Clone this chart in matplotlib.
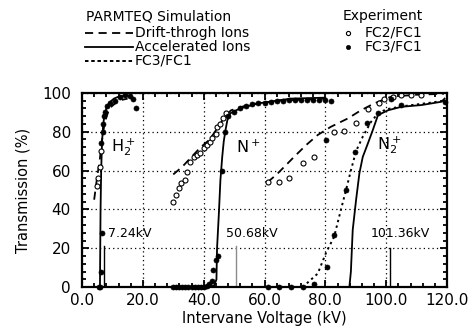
import matplotlib
matplotlib.use("Agg")
import matplotlib.pyplot as plt
from matplotlib.lines import Line2D
from matplotlib.ticker import MultipleLocator

plt.rcParams['font.family'] = ['DejaVu Sans']
plt.rcParams['mathtext.default'] = 'regular'

# ---------------- data ----------------
# H2+
h2_acc_x = [5.9, 6.0, 6.1, 6.3, 6.6, 6.9, 7.3, 8.0, 9.0, 10.5, 12.0, 14.0, 16.0]
h2_acc_y = [0, 20, 40, 60, 75, 82, 88, 92, 95, 97, 98, 98.5, 98.5]
h2_drift_x = [4.0, 5.0, 5.8, 6.5, 7.5, 9.0, 12.0, 15.0]
h2_drift_y = [45, 57, 65, 75, 85, 92, 96, 97]
h2_fc3_x = [5.5, 5.9, 6.4, 6.5, 6.3, 6.8, 7.0, 7.3, 7.6, 8.1, 9.2, 10.9, 12.5, 14.2, 15.8, 16.9, 17.7]
h2_fc3_y = [0, 0, 8, 28, 74, 80, 84, 88, 90, 93, 94.5, 96, 98, 98.8, 98.3, 97, 92]
h2_fc2_x = [5.0, 5.4, 5.8, 6.2]
h2_fc2_y = [52, 56, 62, 70]

# N+
n_acc_x = [29, 42, 43.5, 44.2, 44.4, 45.0, 45.5, 46.1, 46.6, 47.2, 47.8, 48.8, 52.0, 57.7, 68.6, 80.0]
n_acc_y = [0, 0, 1, 4, 20, 38, 55, 67, 75, 81, 86, 89.5, 92, 94.5, 97, 97.5]
n_drift_x = [30, 33, 36, 39, 42, 45, 47, 49, 55, 65, 80]
n_drift_y = [58, 62, 67, 72, 76, 83, 88, 91, 94, 96, 97]
n_fc3_x = [30, 31, 32, 33, 34, 35, 36, 37, 38, 39, 40, 41, 41.8, 42.6, 43.2, 44.2, 44.6,
           46.1, 47.0, 48, 50, 52, 54, 56, 58, 60, 62, 64, 66, 68, 70, 72, 74, 76, 78, 80, 82]
n_fc3_y = [0, 0, 0, 0, 0, 0, 0, 0, 0, 0, 0, 0.5, 1.5, 3, 9, 14, 16,
           60, 80, 88, 90, 92, 93, 94, 94.5, 95, 95.5, 96, 96, 96.5, 96.5, 96.5, 96.5, 96.5, 96.2, 96.2, 96]
n_fc2_x = [29.9, 31.0, 31.8, 32.6, 33.8, 34.6, 35.6, 36.7, 37.9, 38.9, 40.0, 41.2, 42.2,
           42.8, 43.9, 44.4, 45.5, 46.4, 47.2]
n_fc2_y = [44, 47.4, 50.8, 53.4, 55, 59.4, 64.5, 66.8, 68, 69, 71.4, 73, 74.8,
           76.5, 79, 82.5, 84.2, 86.8, 89.4]

# N2+
n2_acc_x = [0, 87.9, 88.4, 89.0, 90.1, 91.2, 92.3, 94.0, 95.6, 97.3, 100.6, 105.0, 111.6, 118.2, 119.2]
n2_acc_y = [0, 0, 8, 29.4, 44.8, 58.6, 67, 74, 80.8, 88.5, 91, 92.8, 93.7, 95.4, 97]
n2_drift_x = [61, 64, 67.5, 69.7, 73.6, 77.5, 81.8, 87.4, 91.7, 96.0, 101.6, 110, 119]
n2_drift_y = [54, 58, 63.5, 67, 73, 78.3, 82.5, 86.8, 91, 94.5, 98, 99, 99.5]
n2_sim3_x = [72.5, 77.5, 80.2, 82.9, 85.1, 86.8, 88.4, 90.1, 92.3, 95.0, 97.3, 100, 105, 110, 115, 119]
n2_sim3_y = [0, 7, 17.6, 26, 39.7, 50, 60, 70, 77.4, 85, 89.4, 91.5, 93, 94, 95, 96]
n2_fc3_x = [61, 64.8, 68.6, 72.5, 76.3, 80.5, 82.9, 86.8, 89.8, 80.2, 93.7, 97.3, 101.6, 105.0, 119.2]
n2_fc3_y = [0, 0, 0, 0, 1.6, 10.5, 27, 50, 69.7, 75.6, 84.3, 89.4, 97, 93.7, 95.4]
n2_fc2_x = [61, 64.8, 68.1, 72.5, 76.3, 82.9, 86.2, 90.1, 94.0, 97.8, 99.4, 102.2, 105, 108.3, 111.6]
n2_fc2_y = [54.2, 54.2, 56, 63.7, 66.8, 80, 80.5, 84.6, 91.5, 94.5, 97, 98, 98.8, 98.8, 98.8]

# markers for rf-voltage values
mark_x = [7.24, 50.68, 101.36]
mark_h = [21, 21, 20]
mark_labels = ["7.24kV", "50.68kV", "101.36kV"]
mark_label_x = [8.7, 47.4, 95.0]
mark_colors = ["black", "0.55", "black"]

ion_labels = ["$H_2^+$", "$N^+$", "$N_2^+$"]
ion_label_x = [9.5, 50.5, 97.0]
ion_label_y = [72, 72, 73]

xticks = [0, 20, 40, 60, 80, 100, 120]
xticklabels = ["0.0", "20.0", "40.0", "60.0", "80.0", "100.0", "120.0"]
yticks = [0, 20, 40, 60, 80, 100]

# ---------------- figure ----------------
W, H = 470, 333
fig = plt.figure(figsize=(W / 100, H / 100), dpi=100)
ax = fig.add_axes([82 / W, 1 - 287.2 / H, (447 - 82) / W, (287.2 - 92.8) / H])

dash_style = dict(color="black", lw=1.3, ls=(0, (4.5, 3)))
solid_style = dict(color="black", lw=1.3, ls="-")
dot_style = dict(color="black", lw=1.4, ls=(0, (1.2, 1.8)))
open_style = dict(ls="none", marker="o", ms=3.6, mfc="white", mec="black", mew=0.8, clip_on=False)
fill_style = dict(ls="none", marker="o", ms=3.6, mfc="black", mec="black", mew=0.5, clip_on=False)

for xs, ys in [(h2_drift_x, h2_drift_y), (n_drift_x, n_drift_y), (n2_drift_x, n2_drift_y)]:
    ax.plot(xs, ys, **dash_style)
for xs, ys in [(h2_acc_x, h2_acc_y), (n_acc_x, n_acc_y), (n2_acc_x, n2_acc_y)]:
    ax.plot(xs, ys, **solid_style)
ax.plot(n2_sim3_x, n2_sim3_y, **dot_style)
for xs, ys in [(h2_fc2_x, h2_fc2_y), (n_fc2_x, n_fc2_y), (n2_fc2_x, n2_fc2_y)]:
    ax.plot(xs, ys, **open_style)
for xs, ys in [(h2_fc3_x, h2_fc3_y), (n_fc3_x, n_fc3_y), (n2_fc3_x, n2_fc3_y)]:
    ax.plot(xs, ys, **fill_style)

for x, h, lab, lx, c in zip(mark_x, mark_h, mark_labels, mark_label_x, mark_colors):
    ax.plot([x, x], [0, h], color=c, lw=1.0)
    ax.text(lx, 27.8, lab, fontsize=9, va="center", ha="left")

for lab, lx, ly in zip(ion_labels, ion_label_x, ion_label_y):
    ax.text(lx, ly, lab, fontsize=11.5, va="center", ha="left")

ax.set_xlim(0, 120)
ax.set_ylim(0, 100)
ax.set_xticks(xticks)
ax.set_xticklabels(xticklabels)
ax.set_yticks(yticks)
ax.xaxis.set_minor_locator(MultipleLocator(4))
ax.yaxis.set_minor_locator(MultipleLocator(4))
ax.grid(True, which="major", color="black", ls=(0, (1, 2.5)), lw=0.9)
ax.tick_params(which="both", direction="in", top=True, right=True, width=1.3, labelsize=11)
ax.tick_params(which="major", length=5)
ax.tick_params(which="minor", length=3)
ax.tick_params(axis="y", pad=8)
ax.tick_params(axis="x", pad=4)
for s in ax.spines.values():
    s.set_linewidth(1.6)

ax.set_xlabel("Intervane Voltage (kV)", fontsize=10.5, labelpad=2)
ax.set_ylabel("Transmission (%)", fontsize=10.5, labelpad=8)

# ---------------- legend (manual, figure pixels) ----------------
def fx(px):
    return px / W

def fy(py):
    return 1 - py / H

fig.text(fx(86), fy(16), "PARMTEQ Simulation", fontsize=10, va="center", ha="left")
fig.text(fx(343), fy(16), "Experiment", fontsize=10, va="center", ha="left")

leg_dot_style = dict(dot_style)
leg_dot_style["ls"] = (0, (1.8, 1.4))
leg_rows = [(33, dash_style, "Drift-throgh Ions"),
            (47, solid_style, "Accelerated Ions"),
            (61, leg_dot_style, "FC3/FC1")]
for py, st, lab in leg_rows:
    fig.add_artist(Line2D([fx(85), fx(133)], [fy(py), fy(py)], transform=fig.transFigure, **st))
    fig.text(fx(135), fy(py), lab, fontsize=10, va="center", ha="left")

exp_rows = [(33, open_style, "FC2/FC1"), (47, fill_style, "FC3/FC1")]
for py, st, lab in exp_rows:
    st2 = dict(st)
    st2["ms"] = 3.0
    fig.add_artist(Line2D([fx(348)], [fy(py)], transform=fig.transFigure, **st2))
    fig.text(fx(365), fy(py), lab, fontsize=10, va="center", ha="left")

fig.savefig("out.png", dpi=100)
